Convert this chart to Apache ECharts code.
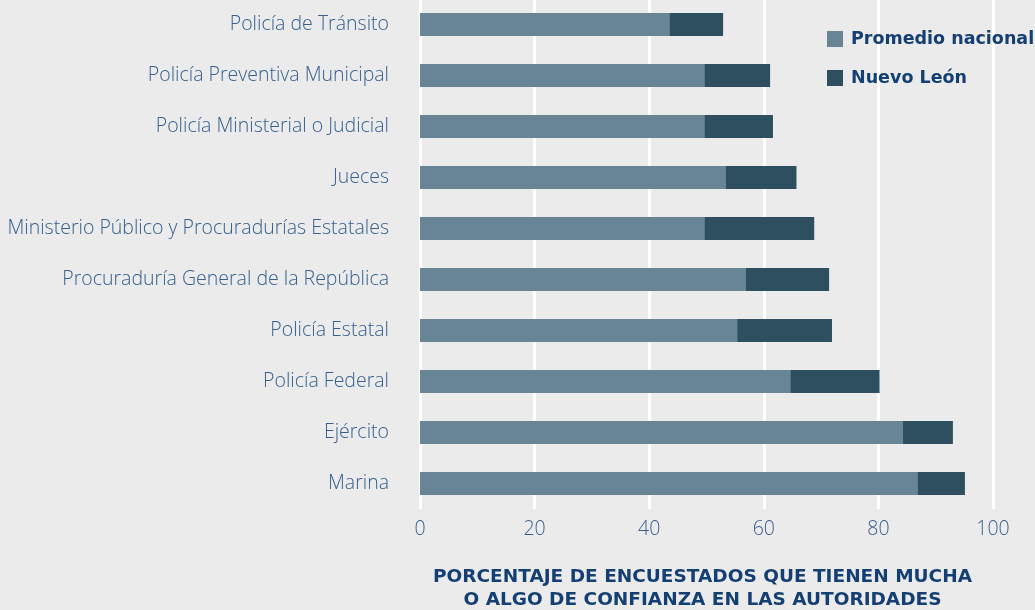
<!DOCTYPE html>
<html>
<head>
<meta charset="utf-8">
<script src="https://cdn.jsdelivr.net/npm/echarts@6/dist/echarts.min.js"></script>
<style>
  html, body { margin: 0; padding: 0; background: #ebebeb; }
  #chart { width: 1035px; height: 610px; }
</style>
</head>
<body>
<div id="chart"></div>
<script>
const categories = [
  'Policía de Tránsito',
  'Policía Preventiva Municipal',
  'Policía Ministerial o Judicial',
  'Jueces',
  'Ministerio Público y Procuradurías Estatales',
  'Procuraduría General de la República',
  'Policía Estatal',
  'Policía Federal',
  'Ejército',
  'Marina'
]
const nacional = [43.6, 49.7, 49.7, 53.4, 49.7, 56.9, 55.4, 64.7, 84.3, 86.9]
const nuevoLeon = [52.9, 61.1, 61.6, 65.7, 68.8, 71.4, 71.9, 80.2, 93.0, 95.1]
const xTicks = [0, 20, 40, 60, 80, 100]

const textBlue = '#143f73'
const lightFont = 'Open Sans'
const boldFont = 'DejaVu Sans'

const myChart = echarts.init(document.getElementById('chart'))
const option = {
  backgroundColor: '#ebebeb',
  animation: false,
  legend: {
    data: ['Promedio nacional', 'Nuevo León'],
    orient: 'vertical',
    left: 822,
    top: 25,
    itemWidth: 16,
    itemHeight: 16,
    itemGap: 21,
    icon: 'rect',
    textStyle: { color: textBlue, fontSize: 17.5, fontWeight: 'bold', fontFamily: boldFont, padding: [0, 0, 0, 3] }
  },
  grid: { left: 420, right: 42, top: -1, bottom: 101, outerBoundsMode: 'none' },
  xAxis: {
    type: 'value',
    min: xTicks[0],
    max: xTicks[xTicks.length - 1],
    interval: 20,
    axisLine: { show: false },
    axisTick: { show: false },
    splitLine: { lineStyle: { color: '#ffffff', width: 3 } },
    axisLabel: { color: '#3a5f8f', fontSize: 19.5, fontWeight: 300, fontFamily: lightFont, margin: 10 },
    name: 'PORCENTAJE DE ENCUESTADOS QUE TIENEN MUCHA\nO ALGO DE CONFIANZA EN LAS AUTORIDADES',
    nameLocation: 'middle',
    nameGap: 57,
    nameTextStyle: { color: textBlue, fontSize: 18.5, fontWeight: 'bold', fontFamily: boldFont, lineHeight: 23, padding: [0, 8, 0, 0] }
  },
  yAxis: {
    type: 'category',
    data: categories,
    inverse: true,
    axisLine: { show: false },
    axisTick: { show: false },
    axisLabel: { color: '#35608f', fontSize: 19.5, fontWeight: 300, fontFamily: lightFont, margin: 31 }
  },
  series: [
    {
      name: 'Nuevo León',
      type: 'bar',
      data: nuevoLeon,
      barWidth: 23,
      barGap: '-100%',
      itemStyle: { color: '#2d4f5f' }
    },
    {
      name: 'Promedio nacional',
      type: 'bar',
      data: nacional,
      barWidth: 23,
      itemStyle: { color: '#678594' }
    }
  ]
}
myChart.setOption(option)
</script>
</body>
</html>
